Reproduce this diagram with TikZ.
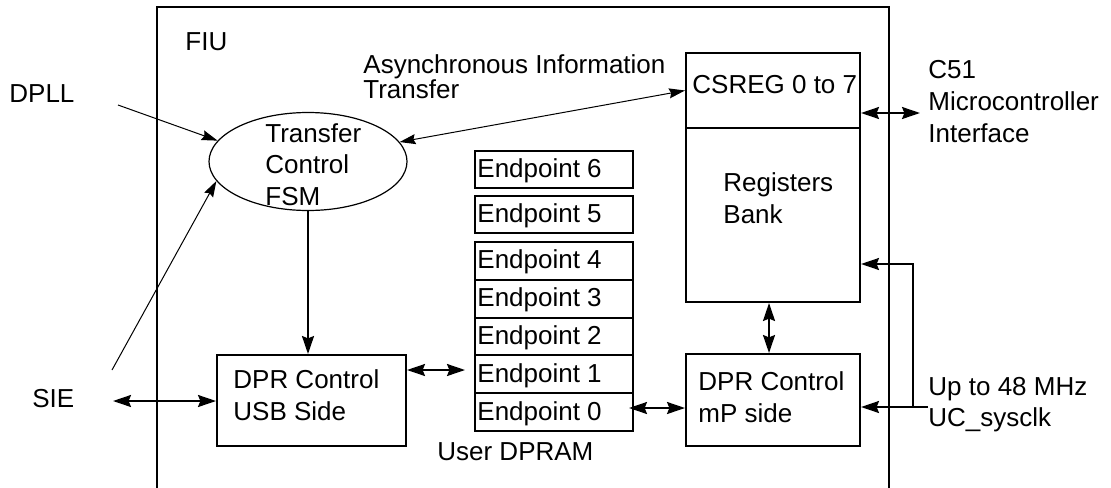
\documentclass[tikz,border=0pt]{standalone}
\usepackage{fontspec}
\setmainfont{Liberation Sans}
\usetikzlibrary{arrows.meta,shapes.geometric}
\begin{document}
\begin{tikzpicture}[x=0.5pt,y=-0.5pt,
  every node/.style={font=\fontsize{13}{15}\selectfont},
  txt/.style={anchor=base west, inner sep=0pt},
  box/.style={draw, line width=1pt, inner sep=0pt, rectangle},
  epbox/.style={box, minimum width=79pt, minimum height=18.9pt},
  thick arrow/.style={line width=1pt, -{Stealth[length=9pt,width=6pt,inset=1.2pt]}},
  thick dbl/.style={line width=1pt, {Stealth[length=9pt,width=6pt,inset=1.2pt]}-{Stealth[length=9pt,width=6pt,inset=1.2pt]}},
  thin arrow/.style={line width=0.5pt, -{Stealth[length=8pt,width=5pt,inset=1pt]}},
  thin dbl/.style={line width=0.5pt, {Stealth[length=8pt,width=5pt,inset=1pt]}-{Stealth[length=8pt,width=5pt,inset=1pt]}}
]
\useasboundingbox (0,0) rectangle (1111,487);
% outer FIU frame (open at the bottom)
\draw[line width=1pt] (157,490) -- (157,7) -- (889,7) -- (889,490);
\node[txt] (fiu) at (185,50) {FIU};

% Transfer control FSM
\node[draw, ellipse, line width=0.6pt, minimum width=99pt, minimum height=49pt, inner sep=0pt] (fsm) at (308,161.5) {};
\node[txt] (fsm1) at (265,142) {Transfer};
\node[txt] (fsm2) at (265,173) {Control};
\node[txt] (fsm3) at (265,205) {FSM};

% external labels
\node[txt] (dpll) at (9,102) {DPLL};
\node[txt] (sie) at (32,407) {SIE};
\node[txt] (async1) at (363,73) {Asynchronous Information};
\node[txt] (async2) at (363,98) {Transfer};

% DPR control USB side
\node[box, minimum width=94.5pt, minimum height=45.5pt] (dprusb) at (311.5,400.5) {};
\node[txt] (usb1) at (233,388) {DPR Control};
\node[txt] (usb2) at (233,420) {USB Side};

% Endpoints
\node[epbox] (ep6) at (554,169.5) {};
\node[epbox] (ep5) at (554,214.5) {};
\node[epbox] (ep4) at (554,260.9) {};
\node[epbox] (ep3) at (554,298.7) {};
\node[epbox] (ep2) at (554,336.5) {};
\node[epbox] (ep1) at (554,374.3) {};
\node[epbox] (ep0) at (554,412.1) {};
\node[txt] (ep6t) at (477,177) {Endpoint 6};
\node[txt] (ep5t) at (477,222) {Endpoint 5};
\node[txt] (ep4t) at (477,268) {Endpoint 4};
\node[txt] (ep3t) at (477,306) {Endpoint 3};
\node[txt] (ep2t) at (477,344) {Endpoint 2};
\node[txt] (ep1t) at (477,382) {Endpoint 1};
\node[txt] (ep0t) at (477,420) {Endpoint 0};
\node[txt] (dpram) at (437,460) {User DPRAM};

% Register bank
\node[box, minimum width=87pt, minimum height=37.5pt] (csreg) at (773,90.5) {};
\node[box, minimum width=87pt, minimum height=87pt] (bank) at (773,215) {};
\node[txt] (csregt) at (692,93) {CSREG 0 to 7};
\node[txt] (bank1) at (723,191) {Registers};
\node[txt] (bank2) at (723,223) {Bank};

% DPR control mP side
\node[box, minimum width=87pt, minimum height=46pt] (dprmp) at (773,400) {};
\node[txt] (mp1) at (698,390) {DPR Control};
\node[txt] (mp2) at (698,422) {mP side};

% right side labels
\node[txt] (c511) at (928,78) {C51};
\node[txt] (c512) at (928,110) {Microcontroller};
\node[txt] (c513) at (928,142) {Interface};
\node[txt] (clk1) at (928,395) {Up to 48 MHz};
\node[txt] (clk2) at (928,426) {UC\_sysclk};

% helper coordinates
\coordinate (dpllstart) at (118,105);
\coordinate (siestart) at (112,370);
\coordinate (sieend) at (113,401);
\coordinate (c51end) at (920,113);
\coordinate (clk) at (928,407);
\coordinate (br) at (913,407);
\coordinate (brtop) at (913,264);

% connectors
\draw[thin arrow] (dpllstart) -- (fsm.167);
\draw[thin arrow] (siestart) -- (fsm.192);
\draw[thin dbl] (fsm.12) -- (csreg.west);
\draw[thick arrow] (fsm.south) -- (fsm.south |- dprusb.north);
\draw[thick dbl] (sieend) -- (sieend -| dprusb.west);
\draw[thick dbl, shorten >=4.5pt] (dprusb.east |- 0,370) -- (ep1.west |- 0,370);
\draw[thick dbl, shorten <=-2.5pt] (ep0.east |- 0,408) -- (dprmp.west |- 0,408);
\draw[thick dbl] (bank.south -| 769,0) -- (dprmp.north -| 769,0);
\draw[thick dbl] (csreg.east |- c51end) -- (c51end);
\draw[thick arrow] (clk) -- (dprmp.east |- clk);
\draw[thick arrow] (br) -- (brtop) -- (bank.east |- brtop);
\end{tikzpicture}
\end{document}
